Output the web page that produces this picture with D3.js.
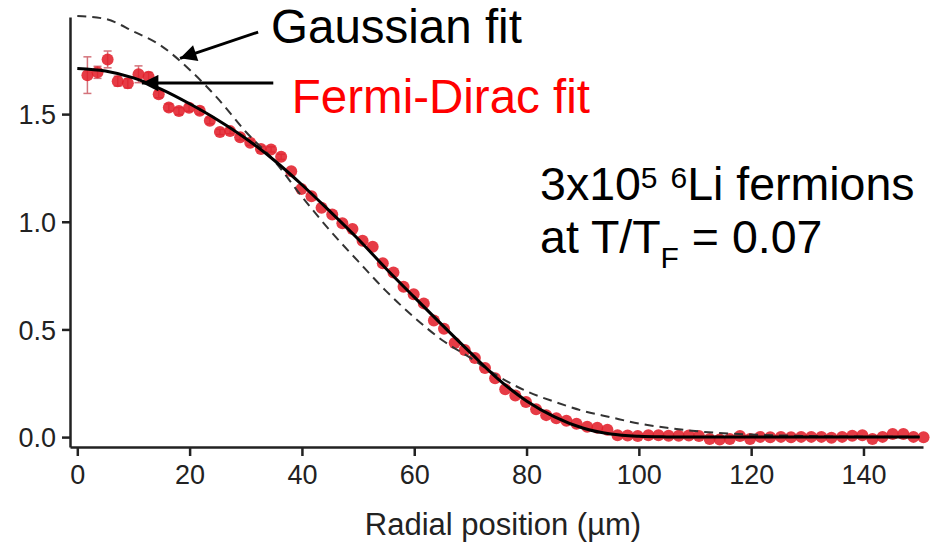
<!DOCTYPE html>
<html>
<head>
<meta charset="utf-8">
<script src="https://cdn.jsdelivr.net/npm/d3@7"></script>
<style>
  body { margin: 0; background: #fff; }
  text { font-family: "Liberation Sans", Arial, sans-serif; }
</style>
</head>
<body>
<script>
// radial bins (µm) and measured column density
const radius = [1.8, 3.6, 5.4, 7.2, 9.0, 10.9, 12.7, 14.5, 16.3, 18.1,
  19.9, 21.8, 23.6, 25.4, 27.2, 29.0, 30.8, 32.7, 34.5, 36.3,
  38.1, 39.9, 41.7, 43.5, 45.4, 47.2, 49.0, 50.8, 52.6, 54.4,
  56.3, 58.1, 59.9, 61.7, 63.5, 65.3, 67.2, 69.0, 70.8, 72.6,
  74.4, 76.2, 78.0, 79.9, 81.7, 83.5, 85.3, 87.1, 88.9, 90.8,
  92.6, 94.4, 96.2, 98.0, 99.8, 101.7, 103.5, 105.3, 107.1, 108.9,
  110.7, 112.6, 114.4, 116.2, 118.0, 119.8, 121.6, 123.4, 125.3, 127.1,
  128.9, 130.7, 132.5, 134.3, 136.2, 138.0, 139.8, 141.6, 143.4, 145.2,
  147.1, 148.9, 150.7]
const density = [1.681, 1.694, 1.754, 1.653, 1.643, 1.685, 1.673, 1.592, 1.531, 1.514,
  1.529, 1.516, 1.469, 1.417, 1.421, 1.392, 1.367, 1.338, 1.336, 1.302,
  1.235, 1.152, 1.119, 1.065, 1.034, 0.993, 0.966, 0.912, 0.884, 0.807,
  0.764, 0.698, 0.663, 0.621, 0.542, 0.503, 0.437, 0.404, 0.367, 0.321,
  0.273, 0.222, 0.193, 0.163, 0.129, 0.102, 0.088, 0.076, 0.062, 0.048,
  0.043, 0.034, 0.009, 0.007, 0.005, 0.009, 0.009, 0.006, 0.006, 0.007,
  0.005, -0.009, -0.011, -0.009, 0.005, -0.009, 0.001, -0.001, 0.001, -0.001,
  0.001, 0.001, 0.001, -0.003, 0.001, 0.006, 0.009, -0.009, 0.001, 0.014,
  0.014, 0.001, -0.001]
const errors = [0.085, 0.028, 0.039, 0.023, 0.022, 0.039, 0.021, 0.016, 0.016, 0.016,
  0.016, 0.016, 0.014, 0.012, 0.012, 0.012, 0.012, 0.012, 0.012, 0.012]

// fit curves
const fitX = [0, 5, 10, 15, 20, 25, 30, 35, 40, 45, 50, 55, 60, 65, 70, 75, 80, 85, 90, 95,
  100, 105, 110, 115, 120, 130, 140, 150]
const fermiFit = [1.712, 1.700, 1.668, 1.615, 1.548, 1.473, 1.387, 1.287, 1.172, 1.048,
  0.920, 0.782, 0.650, 0.520, 0.392, 0.268, 0.168, 0.094, 0.042, 0.014,
  0.004, 0.001, 0, 0, 0, 0, 0, 0]
const gaussFit = [1.956, 1.942, 1.884, 1.816, 1.706, 1.573, 1.418, 1.285, 1.117, 0.959,
  0.817, 0.678, 0.556, 0.450, 0.368, 0.282, 0.213, 0.164, 0.122, 0.092,
  0.063, 0.043, 0.028, 0.018, 0.012, 0.005, 0.002, 0.001]

const xTicks = [0, 20, 40, 60, 80, 100, 120, 140]
const yTicks = [0, 0.5, 1.0, 1.5]

const w = 935
const h = 549

const xscale = d3.scaleLinear()
  .domain([-1.3, 150.6])
  .range([70, 923])

const yscale = d3.scaleLinear()
  .domain([-0.046, 1.951])
  .range([447, 17])

const svg = d3.select("body")
  .append("svg")
  .attr("width", w)
  .attr("height", h)

// axes
const xAxis = d3.axisBottom(xscale)
  .tickValues(xTicks)
  .tickFormat(d3.format("d"))
  .tickSize(9)
  .tickSizeOuter(0)
  .tickPadding(9)

const yAxis = d3.axisLeft(yscale)
  .tickValues(yTicks)
  .tickFormat(d3.format(".1f"))
  .tickSize(8)
  .tickSizeOuter(0)
  .tickPadding(6)

const gx = svg.append("g")
  .attr("transform", "translate(0,447)")
  .call(xAxis)
const gy = svg.append("g")
  .attr("transform", "translate(70,0)")
  .call(yAxis)

svg.selectAll(".domain, .tick line")
  .attr("stroke", "#222")
  .attr("stroke-width", 2.5)
svg.selectAll(".tick text")
  .attr("fill", "#222")
  .style("font-size", "27px")
  .style("font-family", "Liberation Sans, Arial, sans-serif")
gy.selectAll(".tick text").attr("dy", "0.36em")

svg.append("text")
  .attr("x", 503)
  .attr("y", 535)
  .attr("text-anchor", "middle")
  .attr("fill", "#222")
  .style("font-size", "31px")
  .text("Radial position (µm)")

// data
const pts = radius.map((r, i) => ({ x: r, y: density[i], e: errors[i] || 0 }))

const eb = svg.append("g")
  .attr("stroke", "#d4737b")
  .attr("stroke-width", 1.5)
eb.selectAll("line.bar")
  .data(pts.filter(d => d.e > 0))
  .enter()
  .append("line")
  .attr("x1", d => xscale(d.x))
  .attr("x2", d => xscale(d.x))
  .attr("y1", d => yscale(d.y + d.e))
  .attr("y2", d => yscale(d.y - d.e))
eb.selectAll("line.capt")
  .data(pts.filter(d => d.e > 0))
  .enter()
  .append("line")
  .attr("x1", d => xscale(d.x) - 4)
  .attr("x2", d => xscale(d.x) + 4)
  .attr("y1", d => yscale(d.y + d.e))
  .attr("y2", d => yscale(d.y + d.e))
eb.selectAll("line.capb")
  .data(pts.filter(d => d.e > 0))
  .enter()
  .append("line")
  .attr("x1", d => xscale(d.x) - 4)
  .attr("x2", d => xscale(d.x) + 4)
  .attr("y1", d => yscale(d.y - d.e))
  .attr("y2", d => yscale(d.y - d.e))

svg.append("g")
  .selectAll("circle")
  .data(pts)
  .enter()
  .append("circle")
  .attr("cx", d => xscale(d.x))
  .attr("cy", d => yscale(d.y))
  .attr("r", 6)
  .attr("fill", "#e3202b")
  .attr("fill-opacity", 0.88)

// fits
const line = d3.line()
  .x(d => xscale(d[0]))
  .y(d => yscale(d[1]))
  .curve(d3.curveMonotoneX)

svg.append("path")
  .datum(fitX.map((x, i) => [x, gaussFit[i]]))
  .attr("d", line)
  .attr("fill", "none")
  .attr("stroke", "#333")
  .attr("stroke-width", 2)
  .attr("stroke-dasharray", "9,6")

svg.append("path")
  .datum(fitX.map((x, i) => [x, fermiFit[i]]))
  .attr("d", line)
  .attr("fill", "none")
  .attr("stroke", "#000")
  .attr("stroke-width", 3)

// annotations
svg.append("defs").append("marker")
  .attr("id", "head")
  .attr("viewBox", "0 0 10 10")
  .attr("refX", 10)
  .attr("refY", 5)
  .attr("markerWidth", 7)
  .attr("markerHeight", 5.5)
  .attr("markerUnits", "strokeWidth")
  .attr("orient", "auto")
  .append("path")
  .attr("d", "M0,0 L10,5 L0,10 Z")
  .attr("fill", "#000")

const arrows = [
  { from: [32.2, 1.881], to: [18.3, 1.759] },
  { from: [34.9, 1.644], to: [11.5, 1.644] }
]
svg.selectAll("line.arrow")
  .data(arrows)
  .enter()
  .append("line")
  .attr("x1", d => xscale(d.from[0]))
  .attr("y1", d => yscale(d.from[1]))
  .attr("x2", d => xscale(d.to[0]))
  .attr("y2", d => yscale(d.to[1]))
  .attr("stroke", "#000")
  .attr("stroke-width", 3)
  .attr("marker-end", "url(#head)")

svg.append("text")
  .attr("x", xscale(34.5))
  .attr("y", yscale(1.830))
  .attr("fill", "#000")
  .style("font-size", "47.5px")
  .text("Gaussian fit")

svg.append("text")
  .attr("x", xscale(38.2))
  .attr("y", yscale(1.505))
  .attr("fill", "#ff0000")
  .style("font-size", "47.5px")
  .text("Fermi-Dirac fit")

const lx = xscale(82.4)
const t1 = svg.append("text")
  .attr("x", lx)
  .attr("y", yscale(1.100))
  .attr("fill", "#000")
  .style("font-size", "46.5px")
t1.append("tspan").text("3x10")
t1.append("tspan").attr("dy", -12).style("font-size", "30px").text("5")
t1.append("tspan").style("font-size", "46.5px").text(" ")
t1.append("tspan").style("font-size", "30px").text("6")
t1.append("tspan").attr("dy", 12).text("Li fermions")

const t2 = svg.append("text")
  .attr("x", lx)
  .attr("y", yscale(0.855))
  .attr("fill", "#000")
  .style("font-size", "46.5px")
t2.append("tspan").text("at T/T")
t2.append("tspan").attr("dy", 15).style("font-size", "30px").text("F")
t2.append("tspan").attr("dy", -15).text(" = 0.07")
</script>
</body>
</html>
